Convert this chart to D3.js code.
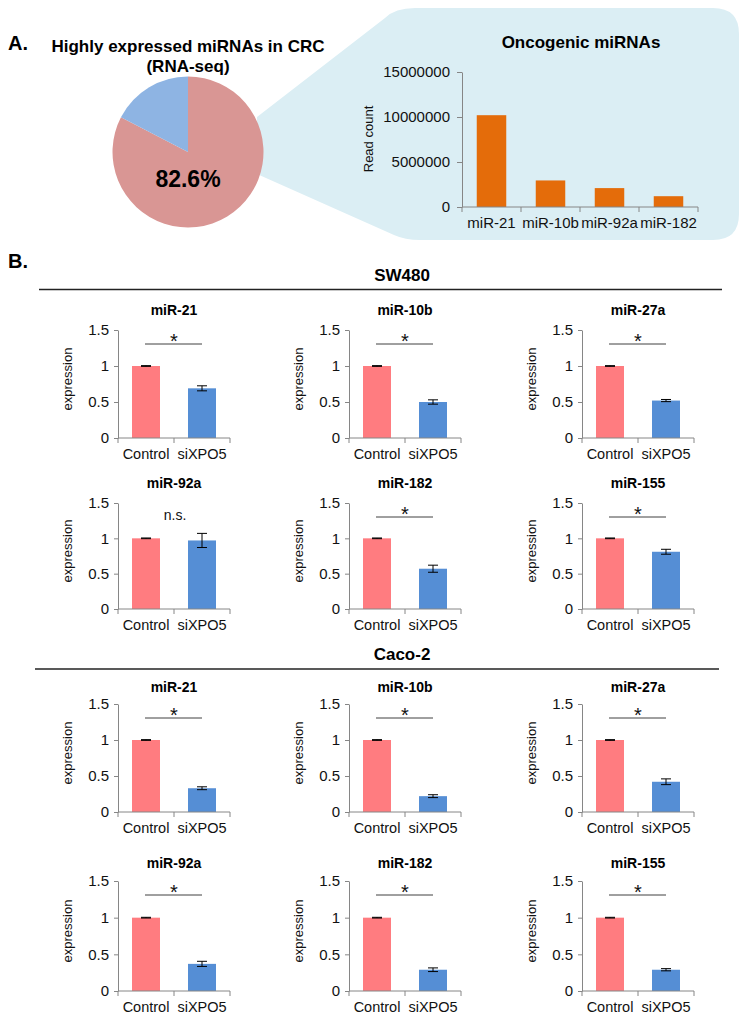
<!DOCTYPE html>
<html>
<head>
<meta charset="utf-8">
<script src="https://cdn.jsdelivr.net/npm/d3@7"></script>
<style>
  html, body { margin: 0; padding: 0; background: #ffffff; }
  svg { display: block; font-family: "Liberation Sans", Arial, sans-serif; }
</style>
</head>
<body>
<svg id="chart" width="749" height="1023"></svg>
<script>
// ---------------- DATA ----------------
const pieLabels = ["Oncogenic miRNAs", "Other miRNAs"];
const pieValues = [82.6, 17.4];
const pieText = "82.6%";

const oncoCategories = ["miR-21", "miR-10b", "miR-92a", "miR-182"];
const oncoReadCounts = [10200000, 2950000, 2100000, 1200000];
const oncoTicks = [0, 5000000, 10000000, 15000000];

const groups = ["Control", "siXPO5"];
const cellLines = ["SW480", "Caco-2"];
const mirnas = ["miR-21", "miR-10b", "miR-27a", "miR-92a", "miR-182", "miR-155"];
const controlMean = 1.0;
const controlError = 0.005;
const sw480Means  = [0.69, 0.50, 0.52, 0.97, 0.57, 0.81];
const sw480Errors = [0.035, 0.03, 0.015, 0.10, 0.05, 0.035];
const sw480Sig    = ["*", "*", "*", "n.s.", "*", "*"];
const caco2Means  = [0.33, 0.22, 0.42, 0.37, 0.29, 0.29];
const caco2Errors = [0.02, 0.02, 0.04, 0.035, 0.025, 0.015];
const caco2Sig    = ["*", "*", "*", "*", "*", "*"];
const exprTicks = [0, 0.5, 1, 1.5];
const exprTickLabels = ["0", "0.5", "1", "1.5"];

// ---------------- STYLE ----------------
const FONT = '"Liberation Sans", Arial, sans-serif';
const AXIS = "#868686";
const PINK = "#FF7C80", BLUE = "#558ED5";
const PIE_COLORS = ["#D99694", "#8EB4E3"];
const ORANGE = "#E46C0A";
const CALLOUT = "#DBEEF4";

const svg = d3.select("#chart");

// ---------------- PANEL A ----------------
svg.append("text").attr("x", 8).attr("y", 50).attr("font-size", 20).attr("font-weight", "bold").text("A.");
svg.append("text").attr("x", 188).attr("y", 52).attr("text-anchor", "middle")
  .attr("font-size", 17).attr("font-weight", "bold").text("Highly expressed miRNAs in CRC");
svg.append("text").attr("x", 188).attr("y", 72).attr("text-anchor", "middle")
  .attr("font-size", 17).attr("font-weight", "bold").text("(RNA-seq)");

// callout shape
svg.append("path")
  .attr("d", "M257,117 L385,18 Q395,8 415,8 L713,8 Q739,8 739,34 L739,214 Q739,240 713,240 L420,240 Q405,240 394,235 L257,174 Z")
  .attr("fill", CALLOUT);

// pie
const pieG = svg.append("g").attr("transform", "translate(188,152)");
const pieGen = d3.pie().sort(null);
const arcs = pieGen(pieValues);
const arcGen = d3.arc().innerRadius(0).outerRadius(75.5);
pieG.selectAll("path").data(arcs).join("path")
  .attr("d", arcGen).attr("fill", (d, i) => PIE_COLORS[i]);
pieG.append("text").attr("x", 0).attr("y", 35).attr("text-anchor", "middle")
  .attr("font-size", 23).attr("font-weight", "bold").text(pieText);

// bar chart A
const axA = { x0: 462, x1: 698, y0: 207, y1: 72 };
svg.append("text").attr("x", 581).attr("y", 48).attr("text-anchor", "middle")
  .attr("font-size", 17).attr("font-weight", "bold").text("Oncogenic miRNAs");
const xA = d3.scaleBand().domain(oncoCategories).range([axA.x0, axA.x1]).paddingInner(0.5).paddingOuter(0.25);
const yA = d3.scaleLinear().domain([0, 15000000]).range([axA.y0, axA.y1]);
svg.selectAll("rect.onco").data(oncoCategories).join("rect").attr("class", "onco")
  .attr("x", d => xA(d)).attr("width", xA.bandwidth())
  .attr("y", (d, i) => yA(oncoReadCounts[i]))
  .attr("height", (d, i) => yA(0) - yA(oncoReadCounts[i]))
  .attr("fill", ORANGE);
const yAxisA = svg.append("g").attr("transform", `translate(${axA.x0},0)`)
  .call(d3.axisLeft(yA).tickValues(oncoTicks).tickSize(5).tickSizeOuter(0).tickPadding(7).tickFormat(d3.format("d")));
yAxisA.select(".domain").attr("stroke", AXIS);
yAxisA.selectAll(".tick line").attr("stroke", AXIS);
yAxisA.selectAll("text").attr("font-size", 15).attr("font-family", FONT).attr("fill", "#111");
// x axis baseline & boundary ticks
svg.append("line").attr("x1", axA.x0).attr("x2", axA.x1).attr("y1", yA(0)).attr("y2", yA(0)).attr("stroke", AXIS);
const bA = d3.range(oncoCategories.length + 1).map(i => xA.range()[0] + i * xA.step());
svg.selectAll("line.bA").data(bA).join("line").attr("class", "bA")
  .attr("x1", d => d).attr("x2", d => d).attr("y1", yA(0)).attr("y2", yA(0) + 5).attr("stroke", AXIS);
svg.selectAll("text.catA").data(oncoCategories).join("text").attr("class", "catA")
  .attr("x", d => xA(d) + xA.bandwidth() / 2).attr("y", 228).attr("text-anchor", "middle")
  .attr("font-size", 15).attr("fill", "#111").text(d => d);
svg.append("text").attr("transform", "translate(373,139) rotate(-90)").attr("text-anchor", "middle")
  .attr("font-size", 13).attr("fill", "#111").text("Read count");

// ---------------- PANEL B ----------------
svg.append("text").attr("x", 8).attr("y", 268).attr("font-size", 20).attr("font-weight", "bold").text("B.");

const sections = [
  { name: cellLines[0], means: sw480Means, errors: sw480Errors, sig: sw480Sig, titleY: 281, lineY: 289.5, lx0: 39, lx1: 722,
    rows: [{ top: 330, bottom: 438, titleY: 315 }, { top: 503, bottom: 609, titleY: 488 }] },
  { name: cellLines[1], means: caco2Means, errors: caco2Errors, sig: caco2Sig, titleY: 660, lineY: 669, lx0: 35, lx1: 719,
    rows: [{ top: 704, bottom: 812, titleY: 692 }, { top: 881, bottom: 991, titleY: 868 }] }
];
const colX = [118, 349, 582];
const panelW = 112;

sections.forEach(sec => {
  svg.append("text").attr("x", 402).attr("y", sec.titleY).attr("text-anchor", "middle")
    .attr("font-size", 17).attr("font-weight", "bold").text(sec.name);
  svg.append("line").attr("x1", sec.lx0).attr("x2", sec.lx1).attr("y1", sec.lineY).attr("y2", sec.lineY)
    .attr("stroke", "#222").attr("stroke-width", 1.5);

  mirnas.forEach((mir, idx) => {
    const row = sec.rows[Math.floor(idx / 3)];
    const ax = colX[idx % 3];
    const g = svg.append("g");
    const x = d3.scaleBand().domain(groups).range([ax, ax + panelW]).paddingInner(0.5).paddingOuter(0.25);
    const y = d3.scaleLinear().domain([0, 1.5]).range([row.bottom, row.top]);
    const means = [controlMean, sec.means[idx]];
    const errs = [controlError, sec.errors[idx]];

    g.append("text").attr("x", ax + panelW / 2).attr("y", row.titleY).attr("text-anchor", "middle")
      .attr("font-size", 14).attr("font-weight", "bold").text(mir);

    g.selectAll("rect").data(groups).join("rect")
      .attr("x", d => x(d)).attr("width", x.bandwidth())
      .attr("y", (d, i) => y(means[i])).attr("height", (d, i) => y(0) - y(means[i]))
      .attr("fill", (d, i) => i === 0 ? PINK : BLUE);

    // error bars
    groups.forEach((gname, i) => {
      const cx = x(gname) + x.bandwidth() / 2;
      const hi = y(means[i] + errs[i]), lo = y(means[i] - errs[i]);
      g.append("line").attr("x1", cx).attr("x2", cx).attr("y1", hi).attr("y2", lo).attr("stroke", "#000");
      [hi, lo].forEach(yy => g.append("line").attr("x1", cx - 5).attr("x2", cx + 5)
        .attr("y1", yy).attr("y2", yy).attr("stroke", "#000"));
    });

    // y axis
    const ya = g.append("g").attr("transform", `translate(${ax},0)`)
      .call(d3.axisLeft(y).tickValues(exprTicks).tickSize(4).tickSizeOuter(0).tickPadding(5)
        .tickFormat((d, i) => exprTickLabels[i]));
    ya.select(".domain").attr("stroke", AXIS);
    ya.selectAll(".tick line").attr("stroke", AXIS);
    ya.selectAll("text").attr("font-size", 15).attr("font-family", FONT).attr("fill", "#111");

    // x axis
    g.append("line").attr("x1", ax).attr("x2", ax + panelW).attr("y1", y(0)).attr("y2", y(0)).attr("stroke", AXIS);
    const bounds = d3.range(groups.length + 1).map(i => x.range()[0] + i * x.step());
    g.selectAll("line.bt").data(bounds).join("line").attr("class", "bt")
      .attr("x1", d => d).attr("x2", d => d).attr("y1", y(0)).attr("y2", y(0) + 5).attr("stroke", AXIS);
    g.selectAll("text.cat").data(groups).join("text").attr("class", "cat")
      .attr("x", d => x(d) + x.bandwidth() / 2).attr("y", y(0) + 21).attr("text-anchor", "middle")
      .attr("font-size", 14.5).attr("fill", "#111").text(d => d);

    // y label
    g.append("text").attr("transform", `translate(${ax - 46},${(row.top + row.bottom) / 2 - 5}) rotate(-90)`)
      .attr("text-anchor", "middle").attr("font-size", 13).attr("fill", "#111").text("expression");

    // significance
    const sig = sec.sig[idx];
    const sy = row.top + 14;
    if (sig === "*") {
      g.append("line").attr("x1", ax + 27).attr("x2", ax + 84).attr("y1", sy).attr("y2", sy)
        .attr("stroke", "#404040");
      g.append("text").attr("x", ax + 56).attr("y", sy + 4).attr("text-anchor", "middle")
        .attr("font-size", 20).attr("fill", "#111").text(sig);
    } else {
      g.append("text").attr("x", ax + 57).attr("y", sy + 3).attr("text-anchor", "middle")
        .attr("font-size", 14).attr("fill", "#111").text(sig);
    }
  });
});
</script>
</body>
</html>
